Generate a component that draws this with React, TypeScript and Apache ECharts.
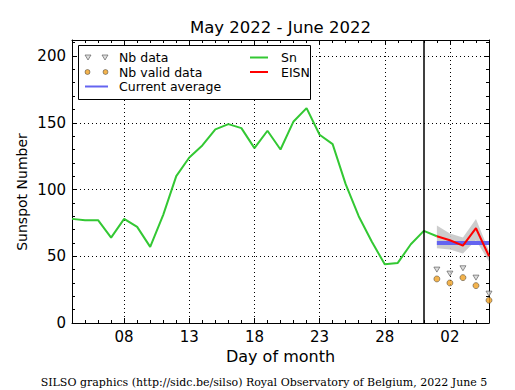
import React, { useEffect, useRef } from "react";
import * as echarts from "echarts";

// Day axis: 4 May 2022 .. 5 June 2022
const dates = [
  "2022-05-04", "2022-05-05", "2022-05-06", "2022-05-07", "2022-05-08", "2022-05-09",
  "2022-05-10", "2022-05-11", "2022-05-12", "2022-05-13", "2022-05-14", "2022-05-15",
  "2022-05-16", "2022-05-17", "2022-05-18", "2022-05-19", "2022-05-20", "2022-05-21",
  "2022-05-22", "2022-05-23", "2022-05-24", "2022-05-25", "2022-05-26", "2022-05-27",
  "2022-05-28", "2022-05-29", "2022-05-30", "2022-05-31", "2022-06-01", "2022-06-02",
  "2022-06-03", "2022-06-04", "2022-06-05",
];

// Daily sunspot number Sn (4 May .. 1 June)
const snValues = [
  78, 77, 77, 64, 78, 72, 57, 81, 110, 124, 133, 145, 149, 146, 131, 144, 130,
  151, 161, 141, 134, 104, 80, 61, 44, 45, 59, 69, 65,
];

// Current month (1..5 June)
const eisnValues = [65, 62, 58, 71, 50];
const eisnLow = [56, 55, 52, 62, 46];
const eisnHigh = [73, 67, 64, 78, 54];
const currentAverage = [60, 60, 60, 60, 60];
const nbData = [40, 37, 41, 34, 22];
const nbValidData = [33, 30, 34, 28, 17];

const separatorDate = "2022-05-31";
const monthStartIndex = 28;

const yTicks = [0, 50, 100, 150, 200];

const padMonth = (arr: number[]) => [
  ...new Array(monthStartIndex).fill(null),
  ...arr,
];
const padSn = (arr: number[]) => [
  ...arr,
  ...new Array(dates.length - arr.length).fill(null),
];

const FONT = "DejaVu Sans";
const HIDDEN_SYMBOL = { color: "rgba(0,0,0,0)", borderWidth: 0, opacity: 0 };
const TRIANGLE_STYLE = { color: "#d4d4d4", borderColor: "#555", borderWidth: 0.8 };
const CIRCLE_STYLE = { color: "#f0a020", borderColor: "#333", borderWidth: 0.6 };

export default function App() {
  const ref = useRef<HTMLDivElement>(null);

  useEffect(() => {
    if (!ref.current) return;
    const chart = echarts.init(ref.current, undefined, { renderer: "svg" });
    const isMajor = (index: number) => index % 5 === 4;
    const diff = eisnHigh.map((h, i) => h - eisnLow[i]);

    const catAxisBase = {
      type: "category",
      data: dates,
      boundaryGap: false,
      gridIndex: 0,
    };
    const valAxisBase = {
      type: "value",
      min: 0,
      max: 212,
      gridIndex: 0,
      splitLine: { show: false },
    };

    const option: any = {
      animation: false,
      grid: { left: 72, right: 26, top: 40, bottom: 67 },
      xAxis: [
        {
          ...catAxisBase,
          position: "bottom",
          axisLine: { show: true, onZero: false, lineStyle: { color: "#000", width: 1 } },
          axisTick: { show: true, inside: true, length: 5, interval: isMajor, lineStyle: { color: "#000" } },
          axisLabel: {
            show: true,
            interval: isMajor,
            formatter: (v: string) => v.slice(8),
            color: "#000",
            fontSize: 15,
            fontFamily: FONT,
            margin: 6,
          },
          splitLine: { show: true, interval: isMajor, lineStyle: { color: "#000", type: [1, 3], width: 1 } },
          name: "Day of month",
          nameLocation: "middle",
          nameGap: 25,
          nameTextStyle: { color: "#000", fontSize: 16, fontFamily: FONT },
        },
        {
          ...catAxisBase,
          position: "bottom",
          axisLine: { show: false, onZero: false },
          axisTick: { show: true, inside: true, length: 3, interval: 0, lineStyle: { color: "#000" } },
          axisLabel: { show: false },
          splitLine: { show: false },
        },
        {
          ...catAxisBase,
          position: "top",
          axisLine: { show: true, onZero: false, lineStyle: { color: "#000", width: 1 } },
          axisTick: { show: true, inside: true, length: 5, interval: isMajor, lineStyle: { color: "#000" } },
          axisLabel: { show: false },
          splitLine: { show: false },
        },
        {
          ...catAxisBase,
          position: "top",
          axisLine: { show: false, onZero: false },
          axisTick: { show: true, inside: true, length: 3, interval: 0, lineStyle: { color: "#000" } },
          axisLabel: { show: false },
          splitLine: { show: false },
        },
      ],
      yAxis: [
        {
          ...valAxisBase,
          position: "left",
          interval: 50,
          axisLine: { show: true, lineStyle: { color: "#000", width: 1 } },
          axisTick: { show: true, inside: true, length: 5, lineStyle: { color: "#000" } },
          axisLabel: {
            color: "#000",
            fontSize: 15,
            fontFamily: FONT,
            margin: 6,
            formatter: (v: number) => (yTicks.includes(v) ? String(v) : ""),
          },
          splitLine: { show: true, lineStyle: { color: "#000", type: [1, 3], width: 1 } },
        },
        {
          ...valAxisBase,
          position: "left",
          interval: 10,
          axisLine: { show: false },
          axisTick: { show: true, inside: true, length: 3, lineStyle: { color: "#000" } },
          axisLabel: { show: false },
        },
        {
          ...valAxisBase,
          position: "right",
          interval: 50,
          axisLine: { show: true, lineStyle: { color: "#000", width: 1 } },
          axisTick: { show: true, inside: true, length: 5, lineStyle: { color: "#000" } },
          axisLabel: { show: false },
        },
        {
          ...valAxisBase,
          position: "right",
          interval: 10,
          axisLine: { show: false },
          axisTick: { show: true, inside: true, length: 3, lineStyle: { color: "#000" } },
          axisLabel: { show: false },
        },
      ],
      legend: [
        {
          left: 84,
          top: 51,
          orient: "vertical",
          padding: 0,
          itemGap: 1.5,
          itemWidth: 23,
          itemHeight: 5,
          z: 6,
          textStyle: { color: "#000", fontSize: 12.5, fontFamily: FONT, padding: [0, 0, 0, 6] },
          data: [
            {
              name: "Nb data",
              icon: "path://M0,0 L6,0 L3,5 Z M17,0 L23,0 L20,5 Z",
              itemStyle: TRIANGLE_STYLE,
            },
            {
              name: "Nb valid data",
              icon: "path://M0,2.5 A2.5,2.5 0 1,0 5,2.5 A2.5,2.5 0 1,0 0,2.5 Z M18,2.5 A2.5,2.5 0 1,0 23,2.5 A2.5,2.5 0 1,0 18,2.5 Z",
              itemStyle: CIRCLE_STYLE,
            },
            { name: "Current average", itemStyle: HIDDEN_SYMBOL },
          ],
        },
        {
          left: 249,
          top: 51,
          orient: "vertical",
          padding: 0,
          itemGap: 1.5,
          itemWidth: 18,
          itemHeight: 5,
          z: 6,
          textStyle: { color: "#000", fontSize: 12.5, fontFamily: FONT, padding: [0, 0, 0, 8] },
          data: [
            { name: "Sn", itemStyle: HIDDEN_SYMBOL },
            { name: "EISN", itemStyle: HIDDEN_SYMBOL },
          ],
        },
      ],
      graphic: [
        {
          type: "rect",
          z: 5,
          shape: { x: 78.5, y: 45.5, width: 232, height: 54 },
          style: { fill: "#fff", stroke: "#000", lineWidth: 1 },
        },
        {
          type: "text",
          x: 280.5,
          y: 27,
          style: {
            text: "May 2022 - June 2022",
            fill: "#000",
            font: `16.5px ${FONT}`,
            textAlign: "center",
            textVerticalAlign: "middle",
          },
        },
        {
          type: "text",
          x: 22,
          y: 192,
          rotation: Math.PI / 2,
          style: {
            text: "Sunspot Number",
            fill: "#000",
            font: `14px ${FONT}`,
            textAlign: "center",
            textVerticalAlign: "middle",
          },
        },
        {
          type: "text",
          x: 264,
          y: 382,
          style: {
            text: "SILSO graphics (http://sidc.be/silso) Royal Observatory of Belgium, 2022 June 5",
            fill: "#000",
            font: `11px "DejaVu Serif"`,
            textAlign: "center",
            textVerticalAlign: "middle",
          },
        },
      ],
      series: [
        {
          name: "bandLow",
          type: "line",
          stack: "band",
          data: padMonth(eisnLow),
          symbol: "none",
          lineStyle: { opacity: 0 },
          silent: true,
        },
        {
          name: "bandDiff",
          type: "line",
          stack: "band",
          data: padMonth(diff),
          symbol: "none",
          lineStyle: { opacity: 0 },
          areaStyle: { color: "#c8c8c8", opacity: 0.9 },
          silent: true,
        },
        {
          name: "Current average",
          type: "line",
          data: padMonth(currentAverage),
          symbol: "none",
          lineStyle: { color: "#6464f0", width: 4 },
          itemStyle: { color: "#6464f0" },
        },
        {
          name: "Sn",
          type: "line",
          data: padSn(snValues),
          symbol: "none",
          lineStyle: { color: "#33c833", width: 2 },
          itemStyle: { color: "#33c833" },
          markLine: {
            silent: true,
            symbol: "none",
            label: { show: false },
            lineStyle: { color: "#000", type: "solid", width: 1.5 },
            data: [{ xAxis: separatorDate }],
          },
        },
        {
          name: "EISN",
          type: "line",
          data: padMonth(eisnValues),
          symbol: "none",
          lineStyle: { color: "#ff0000", width: 2 },
          itemStyle: { color: "#ff0000" },
        },
        {
          name: "Nb data",
          type: "scatter",
          data: padMonth(nbData),
          symbol: "path://M0,0 L10,0 L5,9 Z",
          symbolSize: [6, 5],
          itemStyle: TRIANGLE_STYLE,
        },
        {
          name: "Nb valid data",
          type: "scatter",
          data: padMonth(nbValidData),
          symbol: "circle",
          symbolSize: 6,
          itemStyle: CIRCLE_STYLE,
        },
      ],
    };

    chart.setOption(option);
    return () => chart.dispose();
  }, []);

  return <div ref={ref} style={{ width: 515, height: 390, position: "absolute", left: 0, top: 0 }} />;
}
